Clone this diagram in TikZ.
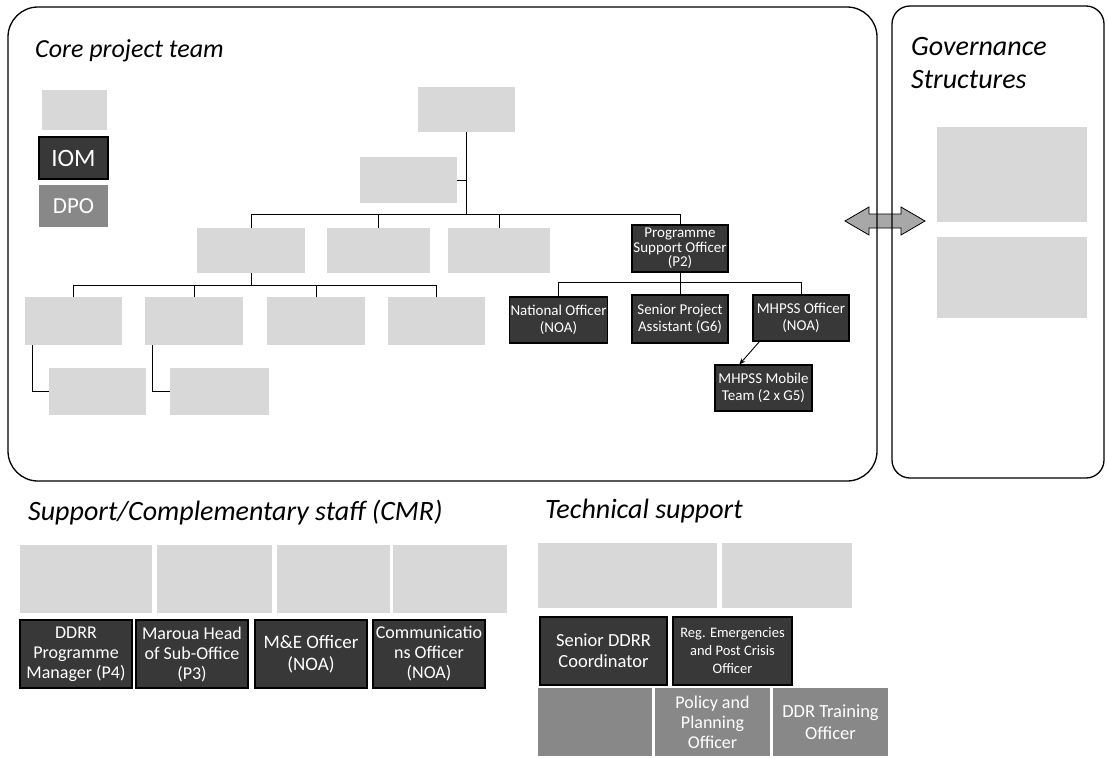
\documentclass[tikz,border=0pt]{standalone}
\usepackage{fontspec}
\setmainfont{Carlito}
\usetikzlibrary{arrows.meta}
\definecolor{darkc}{HTML}{383838}
\definecolor{medc}{HTML}{888888}
\definecolor{lightc}{HTML}{D8D8D8}
\definecolor{arrc}{HTML}{A8A8A8}
\newcommand{\myfs}[2]{\fontsize{#1}{#2}\selectfont}
\tikzset{
  lbox/.style={rectangle, fill=lightc, draw=none, inner sep=1pt},
  dbox/.style={rectangle, fill=darkc, draw=black, line width=1.2pt, text=white, align=center, inner sep=1pt},
  mbox/.style={rectangle, fill=medc, draw=none, text=white, align=center, inner sep=1pt},
  conn/.style={draw=black, line width=0.9pt},
  frame/.style={draw=black, line width=1.3pt},
  ttl/.style={font=\itshape\myfs{28}{30}, anchor=base west, inner sep=0pt},
  coref/.style={font=\myfs{15}{16.5}},
  cmrf/.style={font=\myfs{18}{20}},
}
\begin{document}
\begin{tikzpicture}[x=1pt,y=-1pt]
\useasboundingbox (0,0) rectangle (1108,758);
\fill[white] (0,0) rectangle (1108,758);

% link arrow between the two panels
\coordinate (link) at (885.5,221);
\draw[black, line width=0.8pt, fill=arrc]
  (845,221) -- (869,207) -- (869,214) -- (901,214) -- (901,207) -- (925,221)
  -- (901,235) -- (901,228) -- (869,228) -- (869,235) -- cycle;

% panels
\draw[frame, rounded corners=30pt] (8,7) rectangle (877,481);
\draw[frame, rounded corners=18pt] (892,6) rectangle (1104,478);

% titles
\node[ttl, font=\itshape\myfs{26}{28}] (tcore) at (35,57) {Core project team};
\node[ttl] (tgov1) at (911,55) {Governance};
\node[ttl] (tgov2) at (911,88) {Structures};
\node[ttl] (tcmr) at (28,520) {Support/Complementary staff (CMR)};
\node[ttl] (ttech) at (545,518) {Technical support};

% governance boxes
\node[lbox, minimum width=150pt, minimum height=95pt] (g1) at (1012,174.5) {};
\node[lbox, minimum width=150pt, minimum height=81pt] (g2) at (1012,277.5) {};

% core: left column
\node[lbox, minimum width=65pt, minimum height=40pt] (l1) at (74.5,110) {};
\node[dbox, minimum width=69pt, minimum height=42pt, font=\myfs{25}{27}] (iom) at (73.5,158) {IOM};
\node[mbox, minimum width=69pt, minimum height=42pt, font=\myfs{23}{25}] (dpo) at (73.5,206) {DPO};

% core: hierarchy
\node[lbox, minimum width=97pt, minimum height=45pt] (top) at (466.5,109.5) {};
\node[lbox, minimum width=97pt, minimum height=46pt] (asst) at (408.5,180) {};
\node[lbox, minimum width=108pt, minimum height=45pt] (r2a) at (251,250.5) {};
\node[lbox, minimum width=103pt, minimum height=45pt] (r2b) at (378.5,250.5) {};
\node[lbox, minimum width=102pt, minimum height=45pt] (r2c) at (499,250.5) {};
\node[dbox, minimum width=96pt, minimum height=47pt, font=\myfs{15}{14.5}] (pso) at (680,248.5) {Programme\\Support Officer\\(P2)};

\node[lbox, minimum width=97pt, minimum height=48pt] (r3a) at (73.5,321) {};
\node[lbox, minimum width=98pt, minimum height=48pt] (r3b) at (194,321) {};
\node[lbox, minimum width=98pt, minimum height=48pt] (r3c) at (316,321) {};
\node[lbox, minimum width=97pt, minimum height=48pt] (r3d) at (436.5,321) {};
\node[lbox, minimum width=97pt, minimum height=47pt] (r4a) at (97.5,391.5) {};
\node[lbox, minimum width=99pt, minimum height=47pt] (r4b) at (219.5,391.5) {};

\node[dbox, minimum width=97pt, minimum height=46pt, coref] (no) at (558.5,320) {National Officer\\(NOA)};
\node[dbox, minimum width=96pt, minimum height=48pt, coref] (spa) at (680,319) {Senior Project\\Assistant (G6)};
\node[dbox, minimum width=96pt, minimum height=46pt, coref] (mh) at (801,318) {MHPSS Officer\\(NOA)};
\node[dbox, minimum width=97pt, minimum height=46pt, coref] (mob) at (763.5,388) {MHPSS Mobile\\Team (2 x G5)};

% core connectors
\coordinate (b1) at (466.5,214);
\draw[conn] (top.south) -- (b1);
\draw[conn] (asst.east) -- (asst.east -| b1);
\draw[conn] (b1) -| (r2a.north);
\draw[conn] (b1) -| (r2b.north);
\draw[conn] (b1) -| (r2c.north);
\draw[conn] (b1) -| (pso.north);

\coordinate (b2) at (251,285);
\draw[conn] (r2a.south) -- (b2);
\draw[conn] (b2) -| (r3a.north);
\draw[conn] (b2) -| (r3b.north);
\draw[conn] (b2) -| (r3c.north);
\draw[conn] (b2) -| (r3d.north);
\draw[conn] ([xshift=8pt]r3a.south west) |- (r4a.west);
\draw[conn] ([xshift=8pt]r3b.south west) |- (r4b.west);

\coordinate (b3) at (680,282);
\draw[conn] (pso.south) -- (b3);
\draw[conn] (b3) -| (no.north);
\draw[conn] (b3) -| (spa.north);
\draw[conn] (b3) -| (mh.north);
\draw[conn, -{Stealth[length=6pt,width=5pt]}] ([xshift=7pt]mh.south west) -- ([xshift=25pt]mob.north west);

% CMR staff
\node[lbox, minimum width=132pt, minimum height=68pt] (c1) at (86,579) {};
\node[lbox, minimum width=115pt, minimum height=68pt] (c2) at (214.5,579) {};
\node[lbox, minimum width=113pt, minimum height=68pt] (c3) at (333.5,579) {};
\node[lbox, minimum width=114pt, minimum height=68pt] (c4) at (450,579) {};
\node[dbox, minimum width=112pt, minimum height=68pt, cmrf] (d1) at (76,654) {DDRR\\Programme\\Manager (P4)};
\node[dbox, minimum width=112pt, minimum height=68pt, cmrf] (d2) at (192,654) {Maroua Head\\of Sub-Office\\(P3)};
\node[dbox, minimum width=112pt, minimum height=68pt, font=\myfs{19}{22}] (d3) at (311,654) {M\&E Officer\\(NOA)};
\node[dbox, minimum width=112pt, minimum height=68pt, cmrf] (d4) at (429,654) {Communicatio\\ns Officer\\(NOA)};

% Technical support
\node[lbox, minimum width=179pt, minimum height=65pt] (t1) at (627.5,575.5) {};
\node[lbox, minimum width=130pt, minimum height=65pt] (t2) at (787,575.5) {};
\node[dbox, minimum width=127pt, minimum height=68pt, font=\myfs{18.5}{21}] (t3) at (603.5,651) {Senior DDRR\\Coordinator};
\node[dbox, minimum width=119pt, minimum height=68pt, font=\myfs{14.5}{18}] (t4) at (732.5,651) {Reg. Emergencies\\and Post Crisis\\Officer};
\node[mbox, minimum width=114pt, minimum height=68pt] (t5) at (595,722) {};
\node[mbox, minimum width=115pt, minimum height=68pt, font=\myfs{18}{20}] (t6) at (712.5,722) {Policy and\\Planning\\Officer};
\node[mbox, minimum width=115pt, minimum height=68pt, font=\myfs{18.5}{22}] (t7) at (830.5,722) {DDR Training\\Officer};
\end{tikzpicture}
\end{document}
